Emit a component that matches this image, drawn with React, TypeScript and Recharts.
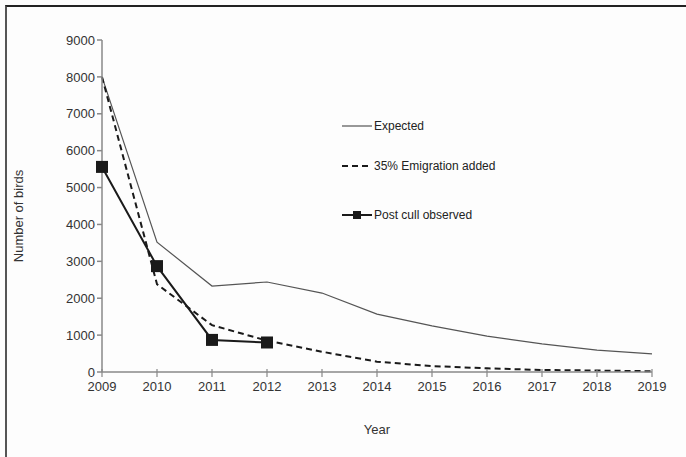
import { CartesianGrid, Legend, Line, LineChart, XAxis, YAxis } from "recharts";

const years = [2009, 2010, 2011, 2012, 2013, 2014, 2015, 2016, 2017, 2018, 2019];
const expected = [8000, 3520, 2330, 2440, 2140, 1570, 1250, 975, 760, 595, 490];
const emigration = [8000, 2380, 1270, 850, 550, 280, 160, 100, 55, 40, 20];
const observed = [5560, 2870, 870, 800, null, null, null, null, null, null, null];
const yTicks = [0, 1000, 2000, 3000, 4000, 5000, 6000, 7000, 8000, 9000];

const data = years.map((year, i) => ({
  year,
  expected: expected[i],
  emigration: emigration[i],
  observed: observed[i],
}));

const font = "'Liberation Sans', Arial, sans-serif";

function SquareDot(props: any) {
  const { cx, cy, index } = props;
  if (cx == null || cy == null) return <g key={index} />;
  return <rect key={index} x={cx - 6} y={cy - 6} width={12} height={12} fill="#1a1a1a" />;
}

// x ticks in the original cross the axis line
function YearTick(props: any) {
  const { x, y, payload } = props;
  return (
    <g>
      <line x1={x} x2={x} y1={y - 11} y2={y - 3} stroke="#888" strokeWidth={1.2} />
      <text x={x} y={y + 11} textAnchor="middle" fontSize={13} fontFamily={font} fill="#333">
        {payload.value}
      </text>
    </g>
  );
}

function LegendBox() {
  const rows = [
    { label: "Expected", dash: undefined, width: 1.2, color: "#555", square: false, gap: 0 },
    { label: "35% Emigration added", dash: "6 4", width: 2, color: "#1a1a1a", square: false, gap: 40 },
    { label: "Post cull observed", dash: undefined, width: 2, color: "#1a1a1a", square: true, gap: 49 },
  ];
  let y = 0;
  return (
    <svg width={200} height={110} style={{ overflow: "visible", display: "block" }}>
      {rows.map((r) => {
        y += r.gap;
        return (
          <g key={r.label}>
            <line x1={2} x2={32} y1={y + 10} y2={y + 10} stroke={r.color} strokeWidth={r.width} strokeDasharray={r.dash} />
            {r.square && <rect x={13} y={y + 6} width={8} height={8} fill="#1a1a1a" />}
            <text x={34} y={y + 14} fontSize={12} fontFamily={font} fill="#222">
              {r.label}
            </text>
          </g>
        );
      })}
    </svg>
  );
}

export default function App() {
  return (
    <div
      style={{
        position: "absolute",
        left: 0,
        top: 0,
        width: 686,
        height: 457,
        background: "#fdfdfd",
        overflow: "hidden",
      }}
    >
      <div
        style={{
          position: "absolute",
          left: 5,
          top: 5,
          width: 690,
          height: 460,
          borderTop: "2px solid #222",
          borderLeft: "2px solid #555",
        }}
      />
      <LineChart width={686} height={457} data={data} margin={{ top: 40, right: 34, bottom: 20, left: 0 }}>
        <CartesianGrid stroke="none" />
        <XAxis
          dataKey="year"
          type="number"
          domain={[2009, 2019]}
          ticks={years}
          height={65}
          stroke="#888"
          strokeWidth={1.5}
          tickLine={false}
          tickSize={4}
          tickMargin={4}
          tick={<YearTick />}
          label={{ value: "Year", position: "insideBottom", offset: 3, fill: "#333", fontSize: 13, fontFamily: font }}
        />
        <YAxis
          domain={[0, 9000]}
          ticks={yTicks}
          width={102}
          stroke="#888"
          strokeWidth={1.5}
          tickSize={5}
          tickMargin={2}
          interval={0}
          tick={{ fill: "#333", fontSize: 13, fontFamily: font }}
          label={{
            value: "Number of  birds",
            angle: -90,
            position: "insideLeft",
            offset: 18,
            dy: 10,
            fill: "#333",
            fontSize: 13,
            fontFamily: font,
            style: { textAnchor: "middle" },
          }}
        />
        <Legend
          verticalAlign="middle"
          align="center"
          layout="horizontal"
          wrapperStyle={{ position: "absolute", left: 340, top: 116, width: 200, height: 110 }}
          content={() => <LegendBox />}
        />
        <Line
          type="linear"
          dataKey="expected"
          stroke="#555"
          strokeWidth={1.2}
          dot={false}
          isAnimationActive={false}
        />
        <Line
          type="linear"
          dataKey="emigration"
          stroke="#1a1a1a"
          strokeWidth={2}
          strokeDasharray="6 4"
          dot={false}
          isAnimationActive={false}
        />
        <Line
          type="linear"
          dataKey="observed"
          stroke="#1a1a1a"
          strokeWidth={2}
          dot={<SquareDot />}
          activeDot={false}
          connectNulls={false}
          isAnimationActive={false}
        />
      </LineChart>
    </div>
  );
}
